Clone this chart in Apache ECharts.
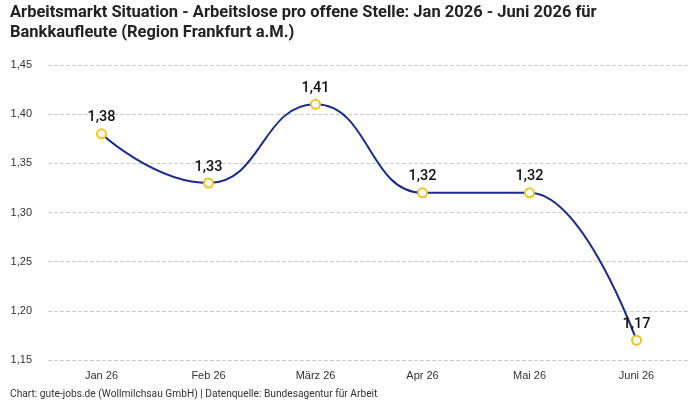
<!DOCTYPE html>
<html>
<head>
<meta charset="utf-8">
<script src="https://cdn.jsdelivr.net/npm/echarts@6/dist/echarts.min.js"></script>
<style>
  html, body { margin: 0; padding: 0; background: #fff; }
  #main { width: 700px; height: 400px; }
</style>
</head>
<body>
<div id="main"></div>
<script>
var monate = ['Jan 26', 'Feb 26', 'März 26', 'Apr 26', 'Mai 26', 'Juni 26'];
var werte = [1.38, 1.33, 1.41, 1.32, 1.32, 1.17];

var myChart = echarts.init(document.getElementById('main'));

function komma(v, n) {
  return v.toFixed(n).replace('.', ',');
}

var option = {
  backgroundColor: '#fff',
  animation: false,
  textStyle: { fontFamily: 'Liberation Sans' },
  title: [{
    text: 'Arbeitsmarkt Situation - Arbeitslose pro offene Stelle: Jan 2026 - Juni 2026 für\nBankkaufleute (Region Frankfurt a.M.)',
    left: 5,
    top: -2,
    textStyle: {
      fontFamily: 'Roboto',
      fontWeight: 'bold',
      fontSize: 16.5,
      lineHeight: 20,
      color: '#222'
    }
  }, {
    text: 'Chart: gute-jobs.de (Wollmilchsau GmbH) | Datenquelle: Bundesagentur für Arbeit',
    left: 5,
    top: 384,
    textStyle: {
      fontFamily: 'Roboto',
      fontWeight: 'normal',
      fontSize: 10.2,
      color: '#333'
    }
  }],
  grid: {
    left: 48,
    right: 10,
    top: 65,
    bottom: 40
  },
  xAxis: {
    type: 'category',
    data: monate,
    axisLine: { show: false },
    axisTick: { show: false },
    axisLabel: { color: '#333', fontSize: 11, margin: 10 }
  },
  yAxis: {
    type: 'value',
    min: 1.15,
    max: 1.45,
    interval: 0.05,
    axisLabel: {
      color: '#333',
      fontSize: 11,
      margin: 16,
      formatter: function (v) { return komma(v, 2); }
    },
    splitLine: { lineStyle: { type: 'dashed', color: '#cccccc' } }
  },
  series: [{
    type: 'line',
    data: werte,
    smooth: true,
    smoothMonotone: 'x',
    symbol: 'circle',
    symbolSize: 9,
    lineStyle: { color: '#1b2a8f', width: 2 },
    itemStyle: { color: '#ffffff', borderColor: '#f6c21c', borderWidth: 2 },
    label: {
      show: true,
      position: 'top',
      distance: 3,
      fontFamily: 'Roboto',
      fontWeight: 500,
      fontSize: 14.5,
      color: '#111',
      formatter: function (p) { return komma(p.value, 2); }
    }
  }]
};

myChart.setOption(option);
</script>
</body>
</html>
